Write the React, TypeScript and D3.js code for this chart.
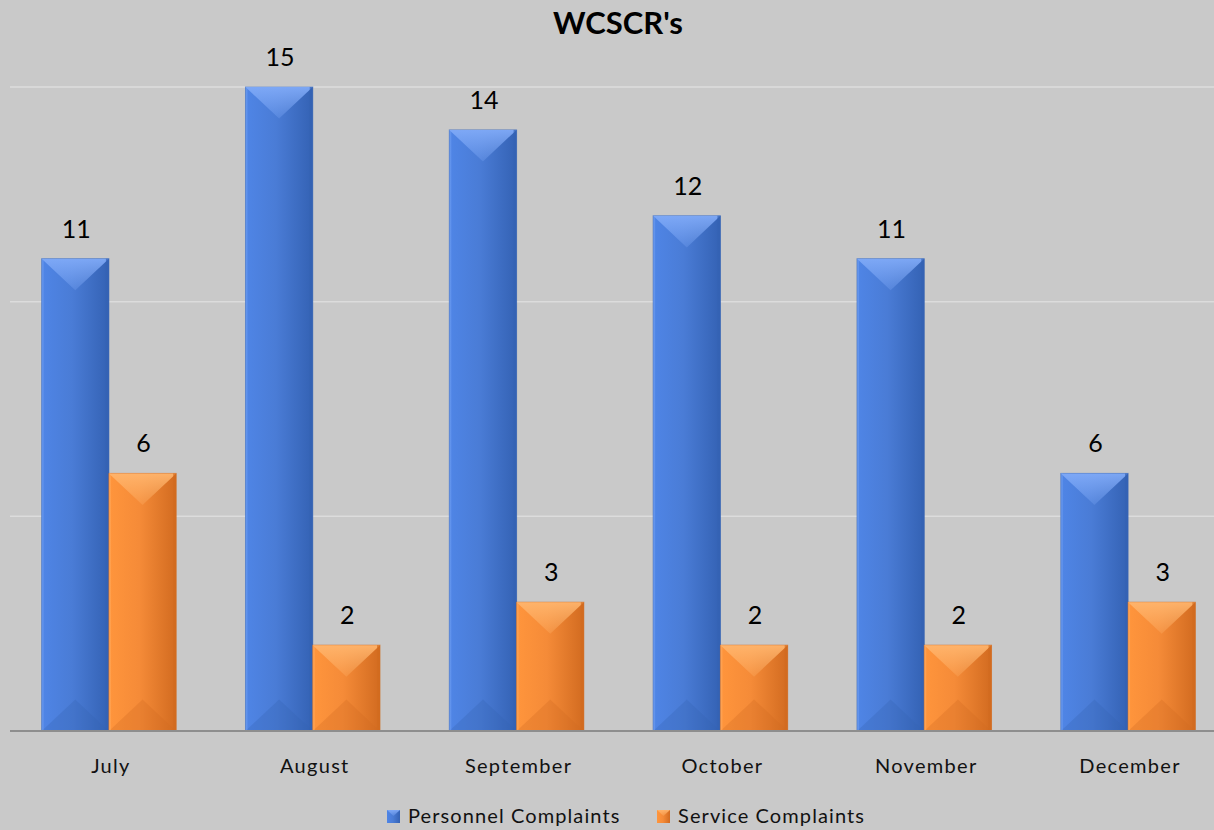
import { useRef, useEffect } from "react";
import * as d3 from "d3";

const months = ["July", "August", "September", "October", "November", "December"];
const personnel = [11, 15, 14, 12, 11, 6];
const service = [6, 2, 3, 2, 2, 3];
const yTicks = [5, 10, 15];

const seriesInfo = [
  { key: "Personnel Complaints", values: personnel, base: "#4a7cd6", light: "#80aaf7", dark: "#3462b4", id: "blue" },
  { key: "Service Complaints", values: service, base: "#f58b38", light: "#ffb56d", dark: "#d26b20", id: "orange" },
];

const W = 1214;
const H = 830;
const FONT = "Lato, 'Open Sans', sans-serif";

export default function App() {
  const svgRef = useRef<SVGSVGElement>(null);

  useEffect(() => {
    const svg = d3.select(svgRef.current);
    svg.selectAll("*").remove();

    const x0 = d3.scaleBand().domain(months).range([7, 1230]).paddingInner(0.34).paddingOuter(0.17);
    const x1 = d3
      .scaleBand()
      .domain(seriesInfo.map((s) => s.key))
      .range([0, x0.bandwidth()]);
    const y = d3.scaleLinear().domain([0, 15]).range([731, 87]);

    svg.append("rect").attr("width", W).attr("height", H).attr("fill", "#c9c9c9");

    // gradients
    const defs = svg.append("defs");
    seriesInfo.forEach((s) => {
      const g = defs
        .append("linearGradient")
        .attr("id", "grad-" + s.id)
        .attr("x1", "0")
        .attr("x2", "1")
        .attr("y1", "0")
        .attr("y2", "0");
      g.append("stop").attr("offset", "0").attr("stop-color", d3.color(s.base)!.brighter(0.2).toString());
      g.append("stop").attr("offset", "0.45").attr("stop-color", s.base);
      g.append("stop").attr("offset", "1").attr("stop-color", s.dark);

      const t = defs
        .append("linearGradient")
        .attr("id", "top-" + s.id)
        .attr("x1", "0")
        .attr("x2", "0")
        .attr("y1", "0")
        .attr("y2", "1");
      t.append("stop").attr("offset", "0").attr("stop-color", s.light).attr("stop-opacity", 0.95);
      t.append("stop").attr("offset", "1").attr("stop-color", s.light).attr("stop-opacity", 0.25);
    });

    // gridlines
    svg
      .append("g")
      .selectAll("line")
      .data(yTicks)
      .join("line")
      .attr("x1", 10)
      .attr("x2", W)
      .attr("y1", (d) => y(d))
      .attr("y2", (d) => y(d))
      .attr("stroke", "#dcdcdc")
      .attr("stroke-width", 1.5);

    // bars
    seriesInfo.forEach((s) => {
      const g = svg.append("g");
      s.values.forEach((v, i) => {
        const bx = x0(months[i])! + x1(s.key)!;
        const bw = x1.bandwidth();
        const top = y(v);
        const bottom = y(0);
        const depth = Math.min(bw * 0.47, (bottom - top) / 2);
        g.append("rect")
          .attr("x", bx)
          .attr("y", top)
          .attr("width", bw)
          .attr("height", bottom - top)
          .attr("fill", `url(#grad-${s.id})`)
          .attr("stroke", s.dark)
          .attr("stroke-opacity", 0.6)
          .attr("stroke-width", 1);
        // top bevel
        g.append("path")
          .attr("d", `M${bx},${top}L${bx + bw},${top}L${bx + bw / 2},${top + depth}Z`)
          .attr("fill", `url(#top-${s.id})`);
        // bottom bevel
        g.append("path")
          .attr("d", `M${bx},${bottom}L${bx + bw},${bottom}L${bx + bw / 2},${bottom - depth}Z`)
          .attr("fill", s.dark)
          .attr("opacity", 0.3);
        // left / right edges
        g.append("rect")
          .attr("x", bx)
          .attr("y", top)
          .attr("width", 2)
          .attr("height", bottom - top)
          .attr("fill", s.light)
          .attr("opacity", 0.4);
        g.append("rect")
          .attr("x", bx + bw - 3)
          .attr("y", top)
          .attr("width", 3)
          .attr("height", bottom - top)
          .attr("fill", s.dark)
          .attr("opacity", 0.7);
        // value label
        g.append("text")
          .attr("x", bx + bw / 2 + 1)
          .attr("y", top - 21)
          .attr("text-anchor", "middle")
          .attr("font-family", FONT)
          .attr("font-size", 25)
          .attr("fill", "#000")
          .text(v);
      });
    });

    // baseline
    svg
      .append("line")
      .attr("x1", 10)
      .attr("x2", W)
      .attr("y1", y(0))
      .attr("y2", y(0))
      .attr("stroke", "#8e8e8e")
      .attr("stroke-width", 2);

    // month labels
    svg
      .append("g")
      .selectAll("text")
      .data(months)
      .join("text")
      .attr("x", (d) => x0(d)! + x0.bandwidth() / 2 + 2)
      .attr("y", 773)
      .attr("text-anchor", "middle")
      .attr("font-family", FONT)
      .attr("font-size", 20)
      .attr("letter-spacing", 1.3)
      .attr("fill", "#111")
      .text((d) => d);

    // title
    svg
      .append("text")
      .attr("x", 618)
      .attr("y", 34)
      .attr("text-anchor", "middle")
      .attr("font-family", FONT)
      .attr("font-weight", "bold")
      .attr("font-size", 31)
      .attr("fill", "#000")
      .text("WCSCR's");

    // legend
    const legendX = [387, 657];
    seriesInfo.forEach((s, i) => {
      const lg = svg.append("g").attr("transform", `translate(${legendX[i]},810)`);
      lg.append("rect").attr("width", 13).attr("height", 13).attr("fill", `url(#grad-${s.id})`);
      lg.append("path").attr("d", "M0,0L13,0L6.5,6Z").attr("fill", `url(#top-${s.id})`);
      lg.append("text")
        .attr("x", 21)
        .attr("y", 13)
        .attr("font-family", FONT)
        .attr("font-size", 20)
        .attr("letter-spacing", 1.1)
        .attr("fill", "#111")
        .text(s.key);
    });
  }, []);

  return (
    <svg
      ref={svgRef}
      width={W}
      height={H}
      style={{ position: "absolute", left: 0, top: 0, display: "block" }}
    />
  );
}
